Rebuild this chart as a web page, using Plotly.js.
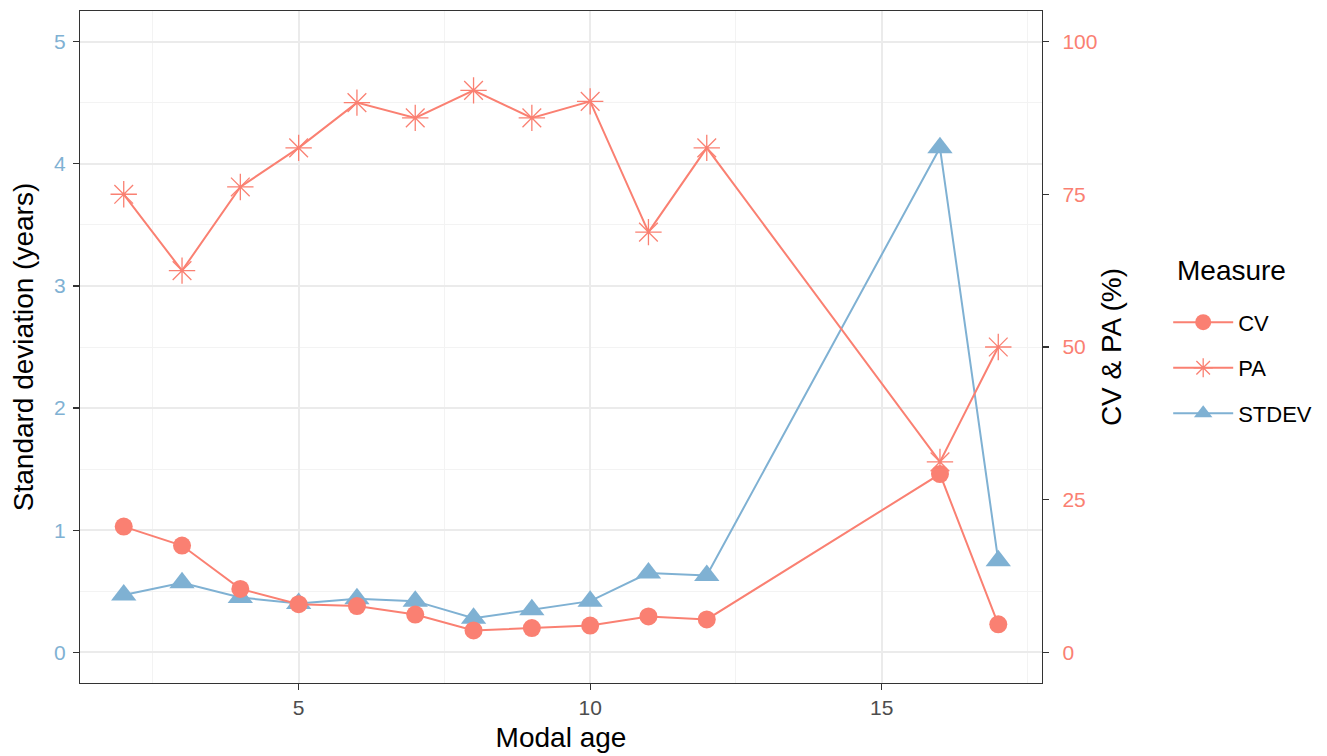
<!DOCTYPE html>
<html>
<head>
<meta charset="utf-8">
<script src="https://cdn.plot.ly/plotly-3.0.1.min.js"></script>
<style>html,body{margin:0;padding:0;background:#fff;}#chart{width:1327px;height:756px;}</style>
</head>
<body>
<div id="chart"></div>
<script>
const modalAge = [2, 3, 4, 5, 6, 7, 8, 9, 10, 11, 12, 16, 17];
const stdev = [0.47, 0.57, 0.45, 0.40, 0.44, 0.42, 0.28, 0.35, 0.42, 0.65, 0.63, 4.13, 0.75];
const cv = [20.6, 17.5, 10.4, 7.9, 7.6, 6.2, 3.6, 4.0, 4.4, 5.9, 5.4, 29.2, 4.6];
const pa = [75.0, 62.5, 76.2, 82.6, 90.0, 87.5, 92.0, 87.5, 90.2, 68.8, 82.6, 31.2, 50.0];
const xTickStep = 5;
const yTickStep = 1;
const y2TickStep = 25;

const SALMON = '#FA8072';
const BLUE = '#7FB1D3';
const FONT = 'Liberation Sans, Arial, sans-serif';

const traces = [
  {
    x: modalAge, y: stdev, name: 'STDEV', type: 'scatter', mode: 'lines+markers',
    yaxis: 'y', legendrank: 3, legendgroup: 'g3',
    line: {color: BLUE, width: 2},
    marker: {symbol: 'triangle-up', size: 22, color: BLUE}
  },
  {
    x: modalAge, y: pa, name: 'PA', type: 'scatter', mode: 'lines+markers',
    yaxis: 'y2', legendrank: 2, legendgroup: 'g2',
    line: {color: SALMON, width: 2},
    marker: {symbol: 'asterisk-open', size: 22, color: SALMON, line: {color: SALMON, width: 1.3}}
  },
  {
    x: modalAge, y: cv, name: 'CV', type: 'scatter', mode: 'lines+markers',
    yaxis: 'y2', legendrank: 1, legendgroup: 'g1',
    line: {color: SALMON, width: 2},
    marker: {symbol: 'circle', size: 18, color: SALMON}
  }
];

const layout = {
  width: 1327, height: 756,
  paper_bgcolor: '#fff', plot_bgcolor: '#fff',
  font: {family: FONT, color: '#000'},
  margin: {l: 80, r: 284, t: 11, b: 73},
  showlegend: true,
  legend: {
    x: 1.13, xanchor: 'left', y: 0.469, yanchor: 'middle',
    traceorder: 'grouped', tracegroupgap: 14,
    font: {size: 22, color: '#000'},
    itemwidth: 60
  },
  annotations: [{
    text: 'Measure', xref: 'paper', yref: 'paper', x: 1.138, y: 0.614,
    xanchor: 'left', yanchor: 'middle', showarrow: false,
    font: {size: 28, color: '#000'}
  }],
  xaxis: {
    range: [1.25, 17.75], tickmode: 'linear', tick0: 0, dtick: xTickStep,
    showgrid: true, gridcolor: '#EBEBEB', gridwidth: 2,
    minor: {dtick: 2.5, tick0: 0, showgrid: true, gridcolor: '#F3F3F3', gridwidth: 1, ticks: ''},
    zeroline: false, showline: true, linecolor: '#333333', linewidth: 1.2, mirror: true,
    ticks: 'outside', ticklen: 6, tickcolor: '#333333', tickwidth: 1.2,
    tickfont: {size: 21, color: '#4D4D4D'},
    title: {text: 'Modal age', font: {size: 28, color: '#000'}, standoff: 9}
  },
  yaxis: {
    range: [-0.25, 5.25], tickmode: 'linear', tick0: 0, dtick: yTickStep,
    showgrid: true, gridcolor: '#EBEBEB', gridwidth: 2,
    minor: {dtick: 0.5, tick0: 0, showgrid: true, gridcolor: '#F3F3F3', gridwidth: 1, ticks: ''},
    zeroline: false, showline: true, linecolor: '#333333', linewidth: 1.2,
    ticks: 'outside', ticklen: 6, tickcolor: '#333333', tickwidth: 1.2,
    ticklabelstandoff: 3,
    tickfont: {size: 21, color: BLUE},
    title: {text: 'Standard deviation (years)', font: {size: 28, color: '#000'}, standoff: 12}
  },
  yaxis2: {
    overlaying: 'y', side: 'right',
    range: [-5, 105], tickmode: 'linear', tick0: 0, dtick: y2TickStep,
    showgrid: false, zeroline: false, showline: true, linecolor: '#333333', linewidth: 1.2,
    ticks: 'outside', ticklen: 6, tickcolor: '#333333', tickwidth: 1.2,
    ticklabelstandoff: 9,
    tickfont: {size: 21, color: SALMON},
    title: {text: 'CV &amp; PA (%)', font: {size: 28, color: '#000'}, standoff: 5}
  }
};

Plotly.newPlot('chart', traces, layout, {displayModeBar: false, staticPlot: true});
</script>
</body>
</html>
